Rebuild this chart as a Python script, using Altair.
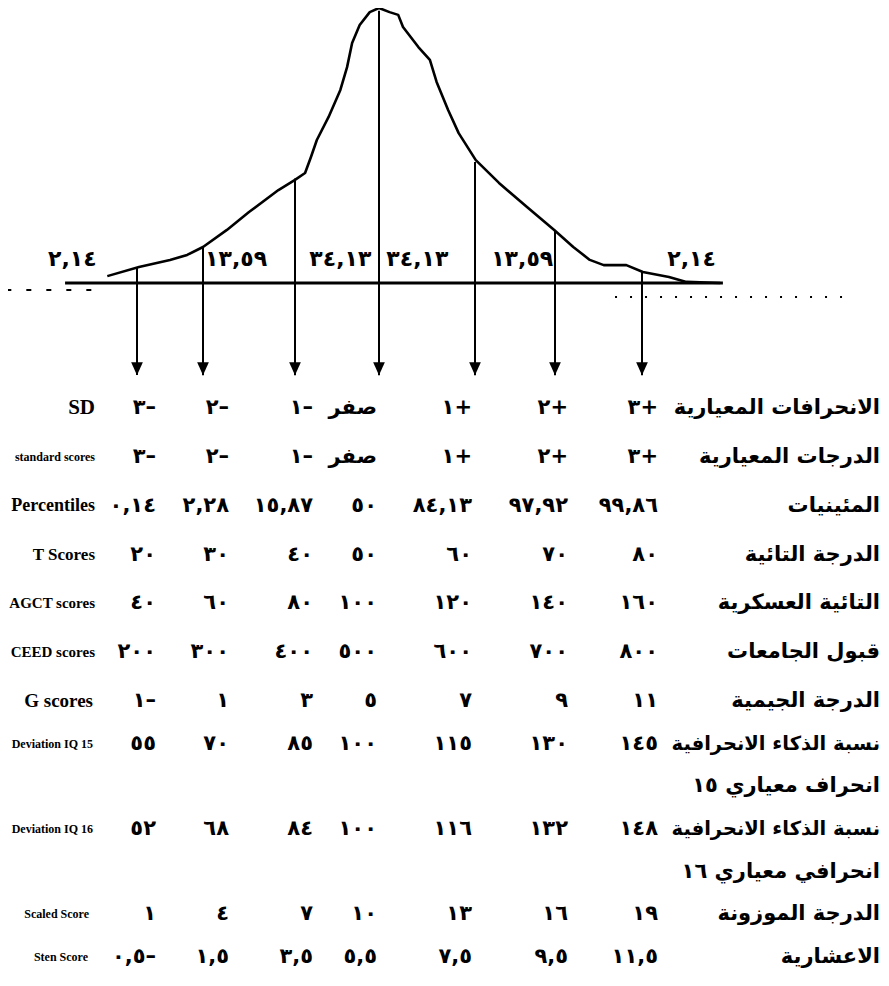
import altair as alt
import pandas as pd

# ---------------- data ----------------
# outline of the normal curve: x in standard deviations, height relative to the peak
curve_z = [-3.45, -2.97, -2.50, -2.24, -2.00, -1.74, -1.50, -1.18, -1.00, -0.88,
           -0.81, -0.74, -0.60, -0.46, -0.38, -0.32, -0.23, -0.11, 0.00, 0.11,
           0.20, 0.25, 0.41, 0.53, 0.60, 0.72, 0.83, 1.01, 1.30, 1.65,
           1.99, 2.21, 2.40, 2.56, 2.82, 3.01, 3.31, 3.51, 3.90]
curve_h = [0.025, 0.058, 0.084, 0.102, 0.131, 0.193, 0.258, 0.338, 0.375, 0.400,
           0.458, 0.520, 0.604, 0.702, 0.785, 0.873, 0.938, 0.985, 1.000, 0.985,
           0.975, 0.931, 0.858, 0.811, 0.731, 0.629, 0.545, 0.447, 0.364, 0.276,
           0.193, 0.131, 0.084, 0.065, 0.065, 0.040, 0.022, 0.004, 0.000]

# the seven standard-deviation lines and where each meets the curve
sd_z = [-3, -2, -1, 0, 1, 2, 3]
sd_line_top = [0.058, 0.131, 0.380, 0.990, 0.440, 0.193, 0.040]

# area percentages written above the base line
region_text = ["٢,١٤", "١٣,٥٩", "٣٤,١٣", "٣٤,١٣", "١٣,٥٩", "٢,١٤"]
region_z = [-3.98, -1.64, -0.46, 0.40, 1.59, 3.57]

# table rows
en_labels = ["SD", "standard scores", "Percentiles", "T Scores", "AGCT scores",
             "CEED scores", "G scores", "Deviation IQ 15", "Deviation IQ 16",
             "Scaled Score", "Sten Score"]
ar_labels = [["الانحرافات المعيارية"],
             ["الدرجات المعيارية"],
             ["المئينيات"],
             ["الدرجة التائية"],
             ["التائية العسكرية"],
             ["قبول الجامعات"],
             ["الدرجة الجيمية"],
             ["نسبة الذكاء الانحرافية", "انحراف معياري ١٥"],
             ["نسبة الذكاء الانحرافية", "انحرافي معياري ١٦"],
             ["الدرجة الموزونة"],
             ["الاعشارية"]]
sd_row = ["٣–", "٢–", "١–", "صفر", "١+", "٢+", "٣+"]
standard_row = ["٣–", "٢–", "١–", "صفر", "١+", "٢+", "٣+"]
percentile_row = ["٠,١٤", "٢,٢٨", "١٥,٨٧", "٥٠", "٨٤,١٣", "٩٧,٩٢", "٩٩,٨٦"]
t_row = ["٢٠", "٣٠", "٤٠", "٥٠", "٦٠", "٧٠", "٨٠"]
agct_row = ["٤٠", "٦٠", "٨٠", "١٠٠", "١٢٠", "١٤٠", "١٦٠"]
ceed_row = ["٢٠٠", "٣٠٠", "٤٠٠", "٥٠٠", "٦٠٠", "٧٠٠", "٨٠٠"]
g_row = ["١–", "١", "٣", "٥", "٧", "٩", "١١"]
iq15_row = ["٥٥", "٧٠", "٨٥", "١٠٠", "١١٥", "١٣٠", "١٤٥"]
iq16_row = ["٥٢", "٦٨", "٨٤", "١٠٠", "١١٦", "١٣٢", "١٤٨"]
scaled_row = ["١", "٤", "٧", "١٠", "١٣", "١٦", "١٩"]
sten_row = ["٠,٥–", "١,٥", "٣,٥", "٥,٥", "٧,٥", "٩,٥", "١١,٥"]
value_rows = [sd_row, standard_row, percentile_row, t_row, agct_row, ceed_row,
              g_row, iq15_row, iq16_row, scaled_row, sten_row]

# ---------------- layout / style (not data) ----------------
W, H = 873, 970
ARROW_TIP = -0.335      # how far below the base line the arrows end (curve units)
LABEL_H = 0.088         # height of the area percentages above the base line
BASE_FROM, BASE_TO = -4.09, 3.93
ARROW_PATH = "M-0.45,-1L0.45,-1L0,0Z"
AR_FONT = "DejaVu Sans"
EN_FONT = "Liberation Serif"
EN_STYLE = {  # font size, horizontal nudge
    "SD": (21, 0), "standard scores": (12, 0), "Percentiles": (18, 0),
    "T Scores": (17, 0), "AGCT scores": (15, 0), "CEED scores": (15, 0),
    "G scores": (19, -2), "Deviation IQ 15": (12, -2), "Deviation IQ 16": (12, -2),
    "Scaled Score": (12, -6), "Sten Score": (12, -7),
}
AR_LONG = "نسبة الذكاء الانحرافية"   # drawn a little smaller so it clears the value

XC = alt.Scale(domain=[-5, -3, -2, -1, 0, 1, 2, 3, 6],
               range=[-3, 129, 195, 287, 371, 467, 547, 634, 895], nice=False, zero=False)
YC = alt.Scale(domain=[0, 1], range=[275, 0], nice=False, zero=False)
XT = alt.Scale(domain=[-4, -3, -2, -1, 0, 1, 2, 3, 4],
               range=[87, 148, 221, 305, 369, 464, 560, 650, 872], nice=False, zero=False)
YT = alt.Scale(domain=[0, 6, 12], range=[400, 693, 949], nice=False, zero=False)


def ltr(s):
    """keep a signed numeral in written order (number, then sign on its right)"""
    if any("\u0621" <= ch <= "\u064a" for ch in s):
        return s
    return "\u202d" + s + "\u202c"


# ---------------- tables built from the arrays ----------------
curve_df = pd.DataFrame({"z": curve_z, "h": curve_h})
sd_df = pd.DataFrame({"z": sd_z, "top": sd_line_top})
region_df = pd.DataFrame({"z": region_z, "label": region_text})
one = pd.DataFrame({"k": [0]})

val_recs, en_recs, ar_recs = [], [], []
line = 0
for en, ar, vals in zip(en_labels, ar_labels, value_rows):
    en_recs.append({"line": line, "label": en})
    for c, v in zip(sd_z, vals):
        val_recs.append({"line": line, "col": c, "text": ltr(v)})
    for k, a in enumerate(ar):
        ar_recs.append({"line": line + k, "label": a})
    line += len(ar)
val_df = pd.DataFrame(val_recs)
en_df = pd.DataFrame(en_recs)
ar_df = pd.DataFrame(ar_recs)

# ---------------- curve part ----------------
xz = alt.X("z:Q", scale=XC, axis=None)

curve = alt.Chart(curve_df).mark_line(color="black", strokeWidth=2.6, strokeJoin="round").encode(
    x=xz, y=alt.Y("h:Q", scale=YC, axis=None))

baseline = alt.Chart(one).mark_rule(color="black", strokeWidth=3).encode(
    x=alt.XDatum(BASE_FROM, type="quantitative", scale=XC, axis=None),
    x2=alt.datum(BASE_TO),
    y=alt.YDatum(0, type="quantitative", scale=YC, axis=None))

verticals = alt.Chart(sd_df).mark_rule(color="black", strokeWidth=2).encode(
    x=xz, y=alt.Y("top:Q", scale=YC, axis=None), y2=alt.datum(ARROW_TIP))

heads = alt.Chart(sd_df).mark_point(shape=ARROW_PATH, filled=True, size=676,
                                     color="black", opacity=1).encode(
    x=xz, y=alt.YDatum(ARROW_TIP, type="quantitative", scale=YC, axis=None))

regions = alt.Chart(region_df).mark_text(font=AR_FONT, fontSize=22, fontWeight="bold",
                                         color="black", baseline="middle").encode(
    x=xz, y=alt.YDatum(LABEL_H, type="quantitative", scale=YC, axis=None), text="label:N")

dash_left = alt.Chart(one).mark_rule(color="black", strokeWidth=2, strokeDash=[5, 15]).encode(
    x=alt.XDatum(-4.98, type="quantitative", scale=XC, axis=None), x2=alt.datum(-3.65),
    y=alt.YDatum(-0.025, type="quantitative", scale=YC, axis=None))
dash_right = alt.Chart(one).mark_rule(color="black", strokeWidth=2, strokeDash=[2, 13]).encode(
    x=alt.XDatum(2.69, type="quantitative", scale=XC, axis=None), x2=alt.datum(5.37),
    y=alt.YDatum(-0.051, type="quantitative", scale=YC, axis=None))

curve_part = alt.layer(curve, baseline, verticals, heads, regions, dash_left, dash_right)

# ---------------- table part ----------------
yl = alt.Y("line:Q", scale=YT, axis=None)

values = alt.Chart(val_df).mark_text(font=AR_FONT, fontSize=21, fontWeight="bold",
                                     color="black", align="right", baseline="middle").encode(
    x=alt.X("col:Q", scale=XT, axis=None), y=yl, text="text:N")

en_layers = []
for lab in en_labels:
    fs, dx = EN_STYLE[lab]
    en_layers.append(
        alt.Chart(en_df).transform_filter(alt.datum.label == lab).mark_text(
            font=EN_FONT, fontWeight="bold", color="black", align="right",
            baseline="middle", fontSize=fs, dx=dx).encode(
            x=alt.XDatum(-4, type="quantitative", scale=XT, axis=None), y=yl, text="label:N"))

ar_x = alt.XDatum(4, type="quantitative", scale=XT, axis=None)
ar_text = alt.Chart(ar_df).transform_filter(alt.datum.label != AR_LONG).mark_text(
    font=AR_FONT, fontSize=21, fontWeight="bold", color="black", align="right",
    baseline="middle").encode(x=ar_x, y=yl, text="label:N")
ar_long = alt.Chart(ar_df).transform_filter(alt.datum.label == AR_LONG).mark_text(
    font=AR_FONT, fontSize=19.5, fontWeight="bold", color="black", align="right",
    baseline="middle").encode(x=ar_x, y=yl, text="label:N")

table_part = alt.layer(values, ar_text, ar_long, *en_layers)

chart = alt.layer(curve_part, table_part).resolve_scale(
    x="independent", y="independent"
).properties(
    width=W, height=H, padding=0, autosize=alt.AutoSizeParams(type="none")
).configure_view(strokeWidth=0)

chart.save("out.html", embed_options={"renderer": "svg", "actions": False})
